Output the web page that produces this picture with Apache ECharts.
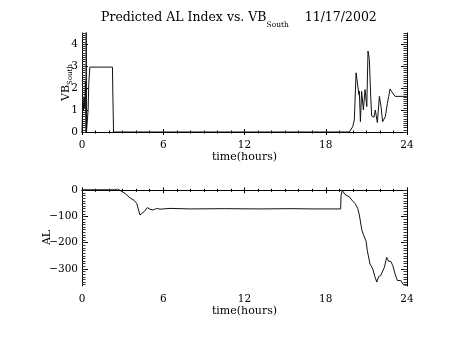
<!DOCTYPE html>
<html><head><meta charset="utf-8">
<script src="https://cdn.jsdelivr.net/npm/echarts@6/dist/echarts.min.js"></script>
<style>html,body{margin:0;padding:0;background:#fff}#c{width:453px;height:340px}</style>
</head><body><div id="c"></div>
<script>
// ---- data ----
var titleMain = 'Predicted AL Index vs. VB';
var titleSub = 'South';
var titleDate = '11/17/2002';
var xLabel = 'time(hours)';
var xTicks = [0, 6, 12, 18, 24];
var vbTicks = [0, 1, 2, 3, 4];
var alTicks = [0, -100, -200, -300];

var vbTime = [0, 0.05, 0.1, 0.15, 0.2, 0.25, 0.28, 0.3, 0.31, 0.33, 0.4, 0.45, 0.5, 0.58, 2.25, 2.28, 2.3, 2.33,
  19.74, 19.99, 20.11, 20.24, 20.33, 20.45, 20.48, 20.56, 20.65, 20.78, 20.9, 21.03, 21.12, 21.22, 21.32, 21.39,
  21.56, 21.66, 21.81, 21.96, 22.08, 22.2, 22.4, 22.55, 22.65, 22.75, 22.85, 22.95, 23.12, 24];
var vbValue = [0, 1.3, 1.0, 1.6, 1.1, 2.3, 1.4, 0, 6, 0, 0, 1.0, 2.2, 2.95, 2.95, 1.6, 1.0, 0,
  0, 0.24, 0.55, 2.69, 2.77, 1.7, 1.85, 0.47, 1.85, 1.0, 1.93, 1.16, 3.68, 3.3, 1.62, 0.73,
  0.67, 1.0, 0.43, 1.62, 1.16, 0.47, 0.7, 1.3, 1.62, 1.96, 1.85, 1.8, 1.62, 1.62];

var alTime = [0, 2.44, 2.61, 2.8, 2.9, 3.18, 3.55, 3.84, 4.04, 4.28, 4.41, 4.6, 4.82, 5.02, 5.27, 5.51, 5.76, 6.5,
  8.0, 10.5, 13.0, 15.5, 17.0, 19.1, 19.13, 19.22, 19.42, 19.55, 19.74, 19.92, 20.16, 20.36, 20.48, 20.66, 20.78,
  20.98, 21.07, 21.27, 21.47, 21.64, 21.77, 21.91, 22.06, 22.2, 22.33, 22.5, 22.65, 22.8, 22.95, 23.12, 23.29,
  23.43, 23.54, 23.61, 23.73, 23.86, 23.98];
var alValue = [2, 2, 6, 0, 2, -12, -29, -38, -50, -94, -98, -81, -66, -72, -75, -69, -72, -69,
  -71, -70, -71, -70, -71, -71, -20, 0, -16, -21, -25, -37, -50, -69, -94, -150, -169,
  -194, -231, -281, -300, -331, -350, -329, -325, -319, -294, -256, -271, -271, -287, -319, -344,
  -350, -344, -350, -360, -354, -363];

function pairs(t, v) { var o = []; for (var i = 0; i < t.length; i++) o.push([t[i], v[i]]); return o; }
function range(a, b, s) { var o = []; for (var v = a; v <= b + 1e-9; v += s) o.push(Math.round(v * 1000) / 1000); return o; }

var FONT = 'DejaVu Serif';
var black = '#000';
var LBL = 10.5;

var grids = [
  { left: 82, width: 325, top: 33, height: 99 },
  { left: 82, width: 325, top: 189, height: 97 }
];

function xAxes(gi) {
  var base = { gridIndex: gi, type: 'value', min: 0, max: 24, interval: 6,
    axisLine: { lineStyle: { color: black, width: 1 } }, splitLine: { show: false } };
  return [
    Object.assign({}, base, { position: 'bottom',
      axisTick: { inside: true, length: 3, lineStyle: { color: black } },
      minorTick: { show: true, splitNumber: 6, length: 1.5, lineStyle: { color: black } },
      axisLabel: { show: true, color: black, fontFamily: FONT, fontSize: LBL, margin: 8,
        customValues: xTicks },
      name: xLabel, nameLocation: 'middle', nameGap: 20, nameMoveOverlap: false,
      nameTextStyle: { color: black, fontFamily: FONT, fontSize: 11 } }),
    Object.assign({}, base, { position: 'top',
      axisTick: { inside: true, length: 3, lineStyle: { color: black } },
      minorTick: { show: true, splitNumber: 6, length: 1.5, lineStyle: { color: black } },
      axisLabel: { show: false } })
  ];
}

function yAxes(gi, mn, mx, ticks, minorStep, name, nameGap, labelFmt) {
  var minorVals = range(Math.ceil(mn / minorStep) * minorStep, mx, minorStep);
  var base = { gridIndex: gi, type: 'value', min: mn, max: mx, splitLine: { show: false } };
  return [
    Object.assign({}, base, { position: 'left',
      axisLine: { show: true, lineStyle: { color: black } },
      axisTick: { inside: true, length: 6, customValues: ticks, lineStyle: { color: black } },
      axisLabel: { show: true, customValues: ticks, color: black, fontFamily: FONT, fontSize: LBL, margin: 4,
        formatter: labelFmt },
      name: name, nameLocation: 'middle', nameGap: nameGap, nameRotate: 90, nameMoveOverlap: false,
      nameTextStyle: { color: black, fontFamily: FONT, fontSize: 11,
        rich: { s: { fontFamily: FONT, fontSize: 7, color: black, verticalAlign: 'bottom', lineHeight: 16 } } } }),
    Object.assign({}, base, { position: 'left', offset: 0,
      axisLine: { show: false },
      axisTick: { inside: true, length: 3.5, customValues: minorVals, lineStyle: { color: '#333' } },
      axisLabel: { show: false } }),
    Object.assign({}, base, { position: 'right',
      axisLine: { show: true, lineStyle: { color: black } },
      axisTick: { inside: true, length: 6, customValues: ticks, lineStyle: { color: black } },
      axisLabel: { show: false } }),
    Object.assign({}, base, { position: 'right', offset: 0,
      axisLine: { show: false },
      axisTick: { inside: true, length: 3.5, customValues: minorVals, lineStyle: { color: '#333' } },
      axisLabel: { show: false } })
  ];
}

var chart = echarts.init(document.getElementById('c'), null, { renderer: 'canvas' });
var minusFmt = function (v) { return String(v).replace('-', '\u2212'); };
chart.setOption({
  backgroundColor: '#fff',
  animation: false,
  title: {
    text: titleMain + '{s|' + titleSub + '}    ' + titleDate,
    left: 96, top: 2,
    textStyle: { color: black, fontFamily: FONT, fontSize: 12.5, fontWeight: 'normal',
      rich: { s: { fontFamily: FONT, fontSize: 7.5, color: black, verticalAlign: 'bottom', lineHeight: 22 } } }
  },
  grid: grids,
  xAxis: xAxes(0).concat(xAxes(1)),
  yAxis: yAxes(0, 0, 4.5, vbTicks, 0.1, 'VB{s|South}', 8, minusFmt)
    .concat(yAxes(1, -365, 5, alTicks, 10, 'AL', 29, minusFmt)),
  series: [
    { type: 'line', xAxisIndex: 0, yAxisIndex: 0, data: pairs(vbTime, vbValue), showSymbol: false, symbol: 'none',
      clip: true, lineStyle: { color: '#111', width: 1 } },
    { type: 'line', xAxisIndex: 2, yAxisIndex: 4, data: pairs(alTime, alValue), showSymbol: false, symbol: 'none',
      clip: true, lineStyle: { color: '#111', width: 1 } }
  ]
});
</script></body></html>
